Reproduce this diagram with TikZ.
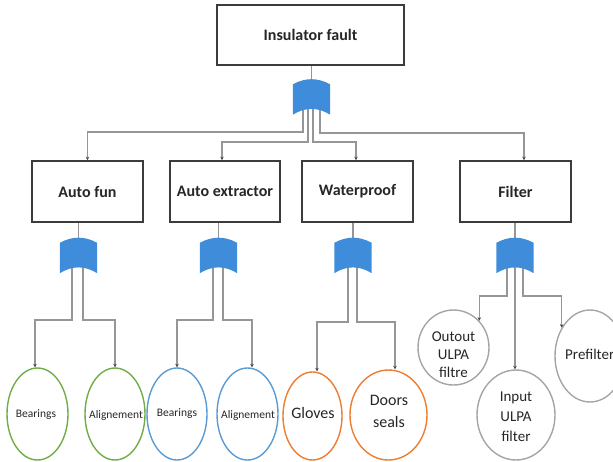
\documentclass[tikz,border=0pt]{standalone}
\usepackage{fontspec}
\setmainfont{Carlito}
\usetikzlibrary{shapes.geometric,arrows.meta}

\definecolor{gatefill}{RGB}{62,140,218}
\definecolor{boxline}{RGB}{60,60,60}
\definecolor{linecol}{RGB}{150,150,150}
\definecolor{tipcol}{RGB}{70,70,70}
\definecolor{textcol}{RGB}{38,38,38}
\definecolor{leafgreen}{RGB}{112,173,71}
\definecolor{leafblue}{RGB}{91,155,213}
\definecolor{leaforange}{RGB}{237,125,49}
\definecolor{leafgray}{RGB}{165,165,165}

\begin{document}
\begin{tikzpicture}[x=1pt,y=-1pt,
  box/.style={draw=boxline, line width=1.6pt, fill=white, minimum width=111pt,
    minimum height=61pt, inner sep=0pt, text=textcol,
    font=\fontsize{16}{19}\selectfont\bfseries},
  gatenode/.style={minimum width=37pt, minimum height=35pt, inner sep=0pt},
  link/.style={draw=linecol, line width=1.1pt},
  conn/.style={link, -{Stealth[length=3.5pt,width=3.5pt,color=tipcol]}},
  leaf/.style={ellipse, line width=1.4pt, inner sep=0pt},
  ltext/.style={align=center, text=textcol, inner sep=0pt},
  smalltxt/.style={ltext, font=\fontsize{11.5}{14}\selectfont},
  bigtxt/.style={ltext, font=\fontsize{16}{22}\selectfont},
  midtxt/.style={ltext, font=\fontsize{15}{18}\selectfont},
]
\useasboundingbox (0,0) rectangle (613,461);
\clip (0,0) rectangle (613,461);

% boxes
\node[box, minimum width=187pt, minimum height=60pt] (top) at (310.5,35) {Insulator fault};
\node[box] (A) at (87.5,191.5) {Auto fun};
\node[box, minimum width=110pt] (B) at (225,191.5) {Auto extractor};
\node[box] (C) at (357.5,191.5) {Waterproof};
\node[box] (D) at (515.5,191.5) {Filter};

% gate placeholders
\node[gatenode] (g0) at (311.5,97) {};
\node[gatenode] (gA) at (78.5,255.5) {};
\node[gatenode] (gB) at (218.5,255.5) {};
\node[gatenode] (gC) at (353,255.5) {};
\node[gatenode] (gD) at (515,255.5) {};

% leaves (outlines)
\node[leaf, draw=leafgreen, minimum width=61pt, minimum height=92pt] (e1) at (37.5,414) {};
\node[leaf, draw=leafgreen, minimum width=60pt, minimum height=92pt] (e2) at (115,414) {};
\node[leaf, draw=leafblue, minimum width=60pt, minimum height=92pt] (e3) at (177,414) {};
\node[leaf, draw=leafblue, minimum width=61pt, minimum height=92pt] (e4) at (247.5,414) {};
\node[leaf, draw=leaforange, minimum width=59pt, minimum height=88pt] (e5) at (312.5,416) {};
\node[leaf, draw=leaforange, minimum width=77pt, minimum height=90pt] (e6) at (388.5,415) {};
\node[leaf, draw=leafgray, minimum width=71pt, minimum height=75pt] (e7) at (453.5,347.5) {};
\node[leaf, draw=leafgray, minimum width=78pt, minimum height=90pt] (e8) at (516,415) {};
\node[leaf, draw=leafgray, minimum width=70pt, minimum height=92pt] (e9) at (590,356) {};

% leaf labels
\node[smalltxt] (t1) at (36,415) {Bearings};
\node[smalltxt] (t2) at (116,415) {Alignement};
\node[smalltxt] (t3) at (177,414) {Bearings};
\node[smalltxt] (t4) at (248,415) {Alignement};
\node[bigtxt] (t5) at (313,413) {Gloves};
\node[bigtxt] (t6) at (389,411) {Doors\\seals};
\node[midtxt] (t7) at (453.5,355) {Outout\\ULPA\\filtre};
\node[ltext, font=\fontsize{15}{20}\selectfont] (t8) at (516,417) {Input\\ULPA\\filter};
\node[midtxt, anchor=west] (t9) at (565,354) {Prefilter};

% connectors: top level
\draw[link] (g0.north |- top.south) -- (g0.center);
\draw[conn] ([xshift=-8.5pt]g0.center) -- ++(0,35) -| (A.north);
\draw[conn] ([xshift=-3.5pt]g0.center) -- ++(0,45) -| ([xshift=-3pt]B.north);
\draw[conn] ([xshift=1.5pt]g0.center) -- ++(0,45) -| ([xshift=-1.5pt]C.north);
\draw[conn] ([xshift=8.5pt]g0.center) -- ++(0,36) -| ([xshift=8.5pt]D.north);

% connectors: boxes to gates
\draw[link] (gA.center |- A.south) -- (gA.center);
\draw[link] (gB.center |- B.south) -- (gB.center);
\draw[link] (gC.center |- C.south) -- (gC.center);
\draw[link] (gD.center |- D.south) -- (gD.center);

% connectors: gates to leaves
\draw[conn] ([xshift=-6.5pt]gA.center) -- ++(0,64.5) -| ([xshift=-2.5pt]e1.north);
\draw[conn] ([xshift=4.5pt]gA.center) -- ++(0,64.5) -| (e2.north);
\draw[conn] ([xshift=-5.5pt]gB.center) -- ++(0,64.5) -| (e3.north);
\draw[conn] ([xshift=4.5pt]gB.center) -- ++(0,64.5) -| ([xshift=4.5pt]e4.north);
\draw[conn] ([xshift=-5pt]gC.center) -- ++(0,66.5) -| ([xshift=4.5pt]e5.north);
\draw[conn] ([xshift=4pt]gC.center) -- ++(0,66.5) -| ([xshift=6.5pt]e6.north);
\draw[conn] ([xshift=-8pt]gD.center) -- ++(0,40.5) -| (e7.46);
\draw[conn] (gD.center) -- (gD.center |- e8.north);
\draw[conn] ([xshift=8pt]gD.center) -- ++(0,40.5) -| (e9.135);

% gate symbols
\foreach \g in {g0,gA,gB,gC,gD}
  \fill[gatefill] ([yshift=-5pt]\g.north west) to[bend left=28] ([yshift=-5pt]\g.north east)
    -- (\g.south east) to[bend right=32] (\g.south west) -- cycle;
\end{tikzpicture}
\end{document}
